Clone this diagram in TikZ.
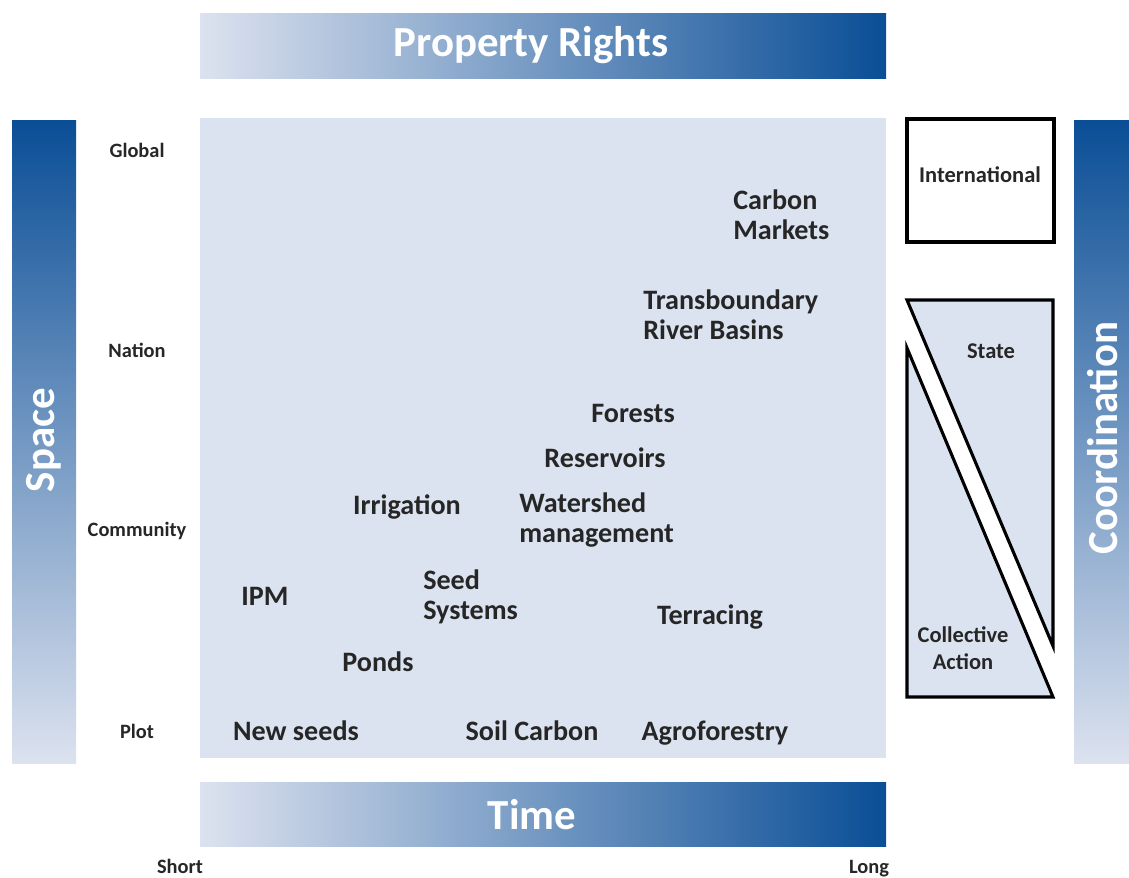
\documentclass[tikz,border=0pt]{standalone}
\usepackage{fontspec}
\setmainfont{Carlito}

\definecolor{panel}{HTML}{DCE3F0}
\definecolor{barlight}{HTML}{DCE2EF}
\definecolor{bardark}{HTML}{0A4E96}

\tikzset{
    item/.style={font=\fontsize{20}{21.5}\selectfont\bfseries, text=black!85, align=left, inner sep=0pt},
    level/.style={font=\fontsize{14.5}{16}\selectfont\bfseries, text=black!85, inner sep=0pt},
    bartext/.style={font=\fontsize{30.5}{34}\selectfont\bfseries, text=white, inner sep=0pt},
    coordbox/.style={draw=black, line width=2.2pt, line join=miter},
    coordtext/.style={font=\fontsize{16}{19.5}\selectfont\bfseries, text=black!85, align=center, inner sep=0pt},
}

\begin{document}
\begin{tikzpicture}[x=0.025cm, y=-0.025cm]
\useasboundingbox (0,0) rectangle (1129,877);

% bars and panel
\shade[left color=barlight, right color=bardark] (200,13) rectangle (886,78);
\shade[left color=barlight, right color=bardark] (200,782) rectangle (886,846);
\shade[top color=bardark, bottom color=barlight] (12,120) rectangle (76,763);
\shade[top color=bardark, bottom color=barlight] (1074,120) rectangle (1129,763);
\fill[panel] (200,118) rectangle (886,758);

\node[bartext] (rights) at (531,45) {Property Rights};
\node[bartext] (time) at (532,815) {Time};
\node[bartext, rotate=90] (space) at (44,440) {Space};
\node[bartext, rotate=90] (coordination) at (1103,438) {Coordination};

\node[level, anchor=base] (short) at (180,873) {Short};
\node[level, anchor=base] (long) at (869,873) {Long};

% spatial levels
\foreach \lab/\y in {Global/150, Nation/350, Community/531, Plot/731}
    \node[level] (lv-\lab) at (137,\y) {\lab};

% items
\node[item, anchor=west] (carbon) at (733,215) {Carbon\\Markets};
\node[item, anchor=west] (basins) at (643,315) {Transboundary\\River Basins};
\node[item] (forests) at (633,413) {Forests};
\node[item] (reservoirs) at (605,458) {Reservoirs};
\node[item] (irrigation) at (407,507) {Irrigation};
\node[item, anchor=west] (watershed) at (519,520) {Watershed\\management};
\node[item, anchor=west] (seedsys) at (423,597) {Seed\\Systems};
\node[item] (ipm) at (265,596) {IPM};
\node[item] (terracing) at (710,617) {Terracing};
\node[item] (ponds) at (378,662) {Ponds};
\node[item, anchor=base] (newseeds) at (296,740) {New seeds};
\node[item, anchor=base] (soilcarbon) at (532,740) {Soil Carbon};
\node[item, anchor=base] (agroforestry) at (715,740) {Agroforestry};

% coordination
\draw[coordbox, fill=white] (907,119) rectangle (1054,242);
\draw[coordbox, fill=panel] (907,300) -- (1053,300) -- (1053,646) -- cycle;
\draw[coordbox, fill=panel] (907,348) -- (1053,697) -- (907,697) -- cycle;
\node[coordtext] (intl) at (980,175) {International};
\node[coordtext] (state) at (991,351) {State};
\node[coordtext] (collective) at (963,648) {Collective\\Action};
\end{tikzpicture}
\end{document}
